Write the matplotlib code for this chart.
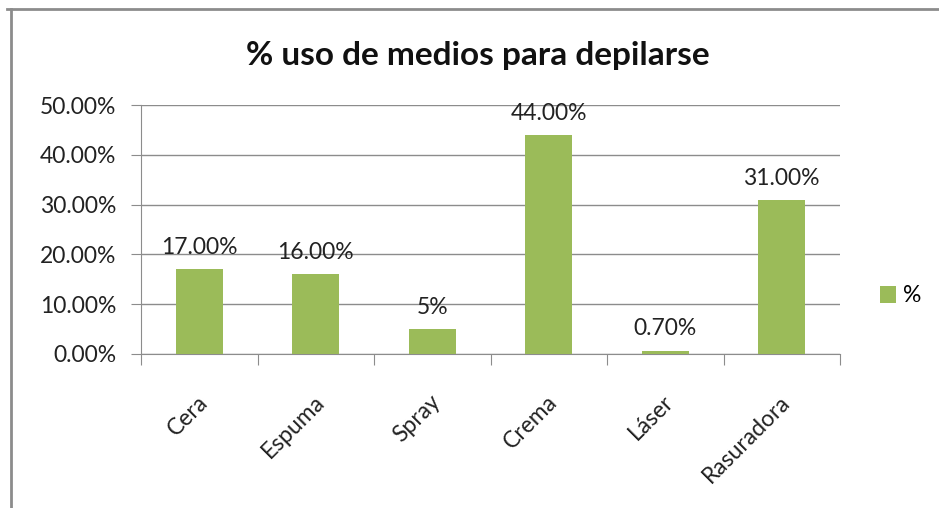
import matplotlib.pyplot as plt
from matplotlib.lines import Line2D
import numpy as np

# Datos
categorias = ["Cera", "Espuma", "Spray", "Crema", "Láser", "Rasuradora"]
valores = [17.0, 16.0, 5.0, 44.0, 0.7, 31.0]
etiquetas = ["17.00%", "16.00%", "5%", "44.00%", "0.70%", "31.00%"]
yticks = [0, 10, 20, 30, 40, 50]
ytick_labels = ["0.00%", "10.00%", "20.00%", "30.00%", "40.00%", "50.00%"]

plt.rcParams['font.family'] = ['Lato', 'DejaVu Sans']

verde = "#9BBB59"
gris = "#8C8C8C"
texto = "#222222"

fig = plt.figure(figsize=(9.39, 5.08), dpi=100)
ax = fig.add_axes([141/939, 1-354/508, (840-141)/939, (354-105)/508])

x = np.arange(len(categorias))
barras = ax.bar(x, valores, width=0.4, color=verde, label="%", zorder=3)

for xi, v, t in zip(x, valores, etiquetas):
    ax.annotate(t, (xi, v), xytext=(0, 8), textcoords="offset points",
                ha="center", va="bottom", fontsize=16.5, color=texto)

ax.set_xlim(-0.5, len(categorias)-0.5)
ax.set_ylim(0, 50)
ax.set_yticks(yticks)
ax.set_yticklabels(ytick_labels, fontsize=16.5, color=texto)
ax.yaxis.grid(True, color=gris, linewidth=1.0, zorder=0)
ax.tick_params(axis="y", length=7, color=gris, pad=11)

# ticks del eje x entre categorias
ax.set_xticks(np.arange(-0.5, len(categorias), 1.0))
ax.set_xticklabels([])
ax.tick_params(axis="x", length=8, color=gris)
for xi, c in zip(x, categorias):
    ax.text(xi - 0.02, -7.5, c, rotation=45, ha="right", va="top",
            rotation_mode="anchor", fontsize=16.5, color=texto)

for s in ["top", "right"]:
    ax.spines[s].set_visible(False)
ax.spines["left"].set_color(gris)
ax.spines["bottom"].set_color(gris)

fig.text(478/939, 1-55/508, "% uso de medios para depilarse", ha="center",
         va="center", fontsize=24, fontweight="bold", color="#111111")

leg = fig.legend(handles=[barras], labels=["%"], loc="center left",
                 bbox_to_anchor=(880/939, 1-296/508), frameon=False,
                 fontsize=16.5, handlelength=0.7, handleheight=0.7,
                 handletextpad=0.3, borderpad=0, borderaxespad=0)

# borde del area del grafico (solo arriba e izquierda visibles)
fig.add_artist(Line2D([7/939, 1], [1-9/508, 1-9/508], color=gris, linewidth=2))
fig.add_artist(Line2D([11/939, 11/939], [0, 1-9/508], color=gris, linewidth=2))

fig.savefig("out.png", dpi=100)
